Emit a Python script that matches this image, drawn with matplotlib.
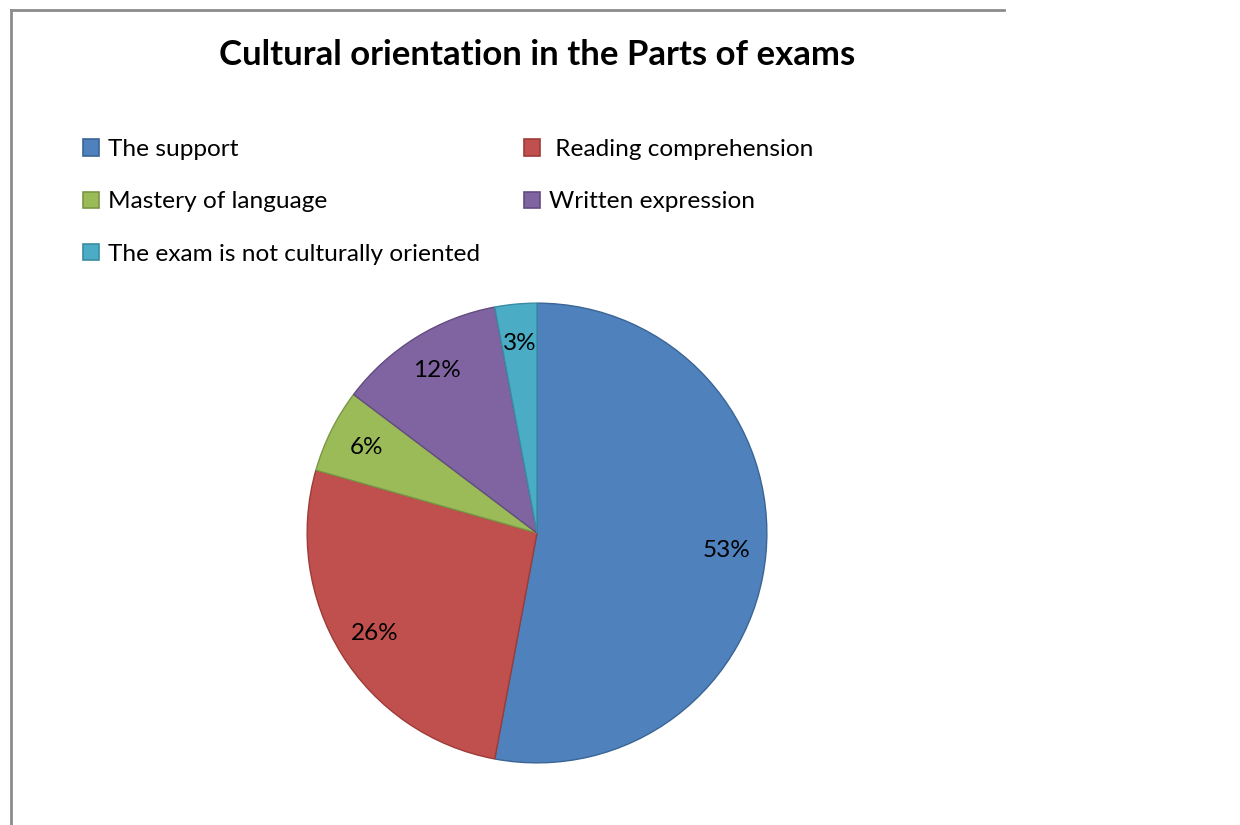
import matplotlib.pyplot as plt
from matplotlib.lines import Line2D
from matplotlib.patches import Patch

# survey answers (number of respondents per part of the exam)
categories = ["The support", " Reading comprehension", "Mastery of language",
              "Written expression", "The exam is not culturally oriented"]
counts = [18, 9, 2, 4, 1]

face_colors = ["#4F81BD", "#C0504D", "#9BBB59", "#8064A2", "#4BACC6"]
edge_colors = ["#3A6595", "#9E3B38", "#7A9746", "#624C80", "#3A8CA3"]

plt.rcParams["font.family"] = ["Lato", "DejaVu Sans"]

W, H = 1240, 825
fig = plt.figure(figsize=(W / 100, H / 100), dpi=100)

# chart frame (only left and top edges visible)
frame_kw = dict(color="#8C8C8C", linewidth=2, transform=fig.transFigure)
fig.add_artist(Line2D([11 / W, 1004 / W], [1 - 10 / H, 1 - 10 / H], **frame_kw))
fig.add_artist(Line2D([11 / W, 11 / W], [1 - 10 / H, 0], **frame_kw))

fig.text(537 / W, 1 - 55 / H, "Cultural orientation in the Parts of exams",
         ha="center", va="center", fontsize=25, fontweight="bold")

# pie
cx, cy, r = 537, 533, 231
ax = fig.add_axes([(cx - r) / W, (H - cy - r) / H, 2 * r / W, 2 * r / H])
wedges, texts, autotexts = ax.pie(
    counts, startangle=90, counterclock=False, colors=face_colors,
    autopct="%.0f%%", pctdistance=0.83,
    wedgeprops=dict(linewidth=1.0),
    textprops=dict(fontsize=17.5, color="black"),
)
for w, ec in zip(wedges, edge_colors):
    w.set_edgecolor(ec)
ax.set_xlim(-1.005, 1.005)
ax.set_ylim(-1.005, 1.005)
ax.set_aspect("equal")
ax.axis("off")

# legend, filled row by row in two columns
handles = [Patch(facecolor=fc, edgecolor=ec, linewidth=1.2)
           for fc, ec in zip(face_colors, edge_colors)]
order = [0, 2, 4, 1, 3]
fig.legend([handles[i] for i in order], [categories[i] for i in order],
           ncol=2, loc="upper left", bbox_to_anchor=(83 / W, 1 - 139 / H),
           frameon=False, fontsize=17.6, handlelength=0.65, handleheight=0.65,
           handletextpad=0.37, labelspacing=1.28, columnspacing=1.8,
           borderpad=0, borderaxespad=0)

fig.savefig("out.png", dpi=100, facecolor="white")
